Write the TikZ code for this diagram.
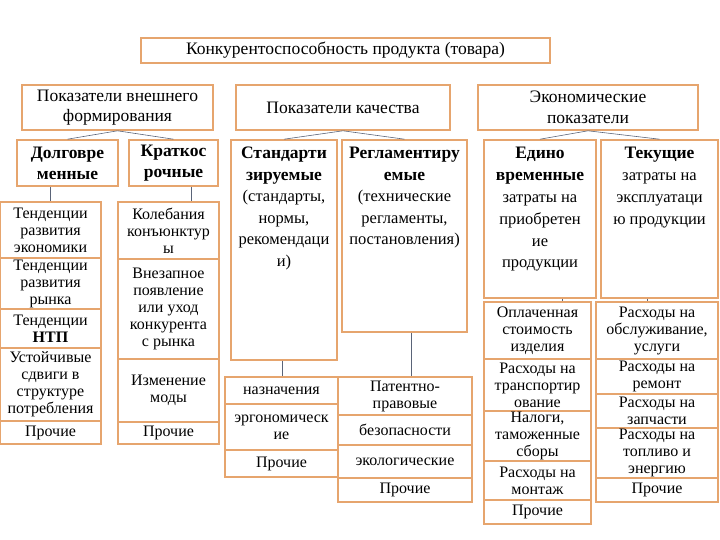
\documentclass[tikz,border=0pt]{standalone}
\usepackage{fontspec}
\setmainfont{Liberation Serif}
\definecolor{bord}{RGB}{230,165,110}
\definecolor{conn}{RGB}{90,100,120}
\tikzset{box/.style={draw=bord,line width=1.6pt,fill=white,inner sep=1pt},
 con/.style={draw=conn,line width=0.6pt},
 tx/.style={align=center,inner sep=0pt,font=\fontsize{16}{17}\selectfont},
 tl/.style={align=center,inner sep=0pt,font=\fontsize{17.5}{20.5}\selectfont},
 hd/.style={align=center,inner sep=0pt,font=\fontsize{17.5}{21}\selectfont\bfseries}}
\newcommand\bx[5]{\node[box,minimum width={#3-#1},minimum height={#4-#2}] (#5) at ({(#1+#3)/2},{(#2+#4)/2}) {};}
\begin{document}
\begin{tikzpicture}[x=1pt,y=-1pt]
\useasboundingbox (0,0) rectangle (720,540);
% top
\bx{141}{38}{550}{63}{top}\node[tl] at (top) {Конкурентоспособность продукта (товара)};
\bx{22}{85}{213}{130}{a}\node[tl] at (a) {Показатели внешнего\\формирования};
\bx{236}{85}{450}{130}{b}\node[tl] at (b) {Показатели качества};
\bx{478}{85}{698}{130}{c}\node[tl] at (c) {Экономические\\показатели};
% row 2
\bx{17}{140}{118}{186}{a1}\node[hd] at (a1) {Долговре\\менные};
\bx{129}{140}{218}{186}{a2}\node[hd] at (a2) {Краткос\\рочные};
\bx{231}{140}{337}{360}{b1}\node[below,tx,font=\fontsize{16.5}{21.5}\selectfont,yshift=-8pt] at (b1.north) {\fontsize{17.5}{21.5}\selectfont\bfseries Стандарти\\\fontsize{17.5}{21.5}\selectfont\bfseries зируемые\\(стандарты,\\нормы,\\рекомендаци\\и)};
\bx{342}{140}{467}{332}{b2}\node[below,tx,font=\fontsize{16.5}{21.5}\selectfont,yshift=-8pt] at (b2.north) {\fontsize{17.5}{21.5}\selectfont\bfseries Регламентиру\\\fontsize{17.5}{21.5}\selectfont\bfseries емые\\(технические\\регламенты,\\постановления)};
\bx{484}{140}{596}{298}{c1}\node[below,tx,font=\fontsize{16.5}{21.8}\selectfont,yshift=-8pt] at (c1.north) {\fontsize{17.5}{21.8}\selectfont\bfseries Едино\\\fontsize{17.5}{21.8}\selectfont\bfseries временные\\затраты на\\приобретен\\ие\\продукции};
\bx{601}{140}{718}{298}{c2}\node[below,tx,font=\fontsize{16.5}{21.8}\selectfont,yshift=-8pt] at (c2.north) {\fontsize{17.5}{21.8}\selectfont\bfseries Текущие\\затраты на\\эксплуатаци\\ю продукции};
\draw[con] (a.south) -- (a1.north); \draw[con] (a.south) -- (a2.north);
\draw[con] (b.south) -- (b1.north); \draw[con] (b.south) -- (b2.north);
\draw[con] (c.south) -- (c1.north); \draw[con] (c.south) -- (c2.north);
% left column
\bx{0}{202}{101}{258}{l1}\node[tx] at (l1) {Тенденции\\развития\\экономики};
\bx{0}{258}{101}{309}{l2}\node[tx] at (l2) {Тенденции\\развития\\рынка};
\bx{0}{309}{101}{348}{l3}\node[tx] at (l3) {Тенденции\\\bfseries НТП};
\bx{0}{348}{101}{421}{l4}\node[tx] at (l4) {Устойчивые\\сдвиги в\\структуре\\потребления};
\bx{0}{421}{101}{444}{l5}\node[tx] at (l5) {Прочие};
\draw[con] (a1.south -| 50,0) -- (l1.north -| 50,0);
% mid column
\bx{118}{202}{219}{259}{m1}\node[tx] at (m1) {Колебания\\конъюнктур\\ы};
\bx{118}{259}{219}{359}{m2}\node[tx] at (m2) {Внезапное\\появление\\или уход\\конкурента\\с рынка};
\bx{118}{359}{219}{422}{m3}\node[tx] at (m3) {Изменение\\моды};
\bx{118}{422}{219}{444}{m4}\node[tx] at (m4) {Прочие};
\draw[con] (a2.south -| 191,0) -- (m1.north -| 191,0);
% quality lower
\bx{225}{377}{338}{404}{q1}\node[tx] at (q1) {назначения};
\bx{225}{404}{338}{450}{q2}\node[tx] at (q2) {эргономическ\\ие};
\bx{225}{450}{338}{477}{q3}\node[tx] at (q3) {Прочие};
\draw[con] (b1.south -| 282,0) -- (q1.north -| 282,0);
\bx{338}{377}{472}{415}{r1}\node[tx] at (r1) {Патентно-\\правовые};
\bx{338}{415}{472}{445}{r2}\node[tx] at (r2) {безопасности};
\bx{338}{445}{472}{478}{r3}\node[tx] at (r3) {экологические};
\bx{338}{478}{472}{502}{r4}\node[tx] at (r4) {Прочие};
\draw[con] (b2.south -| 411,0) -- (r1.north -| 411,0);
% econ lower
\bx{484}{302}{591}{359}{e1}\node[tx] at (e1) {Оплаченная\\стоимость\\изделия};
\bx{484}{359}{591}{411}{e2}\node[tx] at (e2) {Расходы на\\транспортир\\ование};
\bx{484}{411}{591}{461}{e3}\node[tx] at (e3) {Налоги,\\таможенные\\сборы};
\bx{484}{461}{591}{500}{e4}\node[tx] at (e4) {Расходы на\\монтаж};
\bx{484}{500}{591}{524}{e5}\node[tx] at (e5) {Прочие};
\draw[con] (c1.south -| 562,0) -- (e1.north -| 562,0);
\bx{596}{302}{718}{359}{f1}\node[tx] at (f1) {Расходы на\\обслуживание,\\услуги};
\bx{596}{359}{718}{394}{f2}\node[tx] at (f2) {Расходы на\\ремонт};
\bx{596}{394}{718}{428}{f3}\node[tx] at (f3) {Расходы на\\запчасти};
\bx{596}{428}{718}{478}{f4}\node[tx] at (f4) {Расходы на\\топливо и\\энергию};
\bx{596}{478}{718}{502}{f5}\node[tx] at (f5) {Прочие};
\draw[con] (c2.south -| 647,0) -- (f1.north -| 647,0);
\end{tikzpicture}
\end{document}
